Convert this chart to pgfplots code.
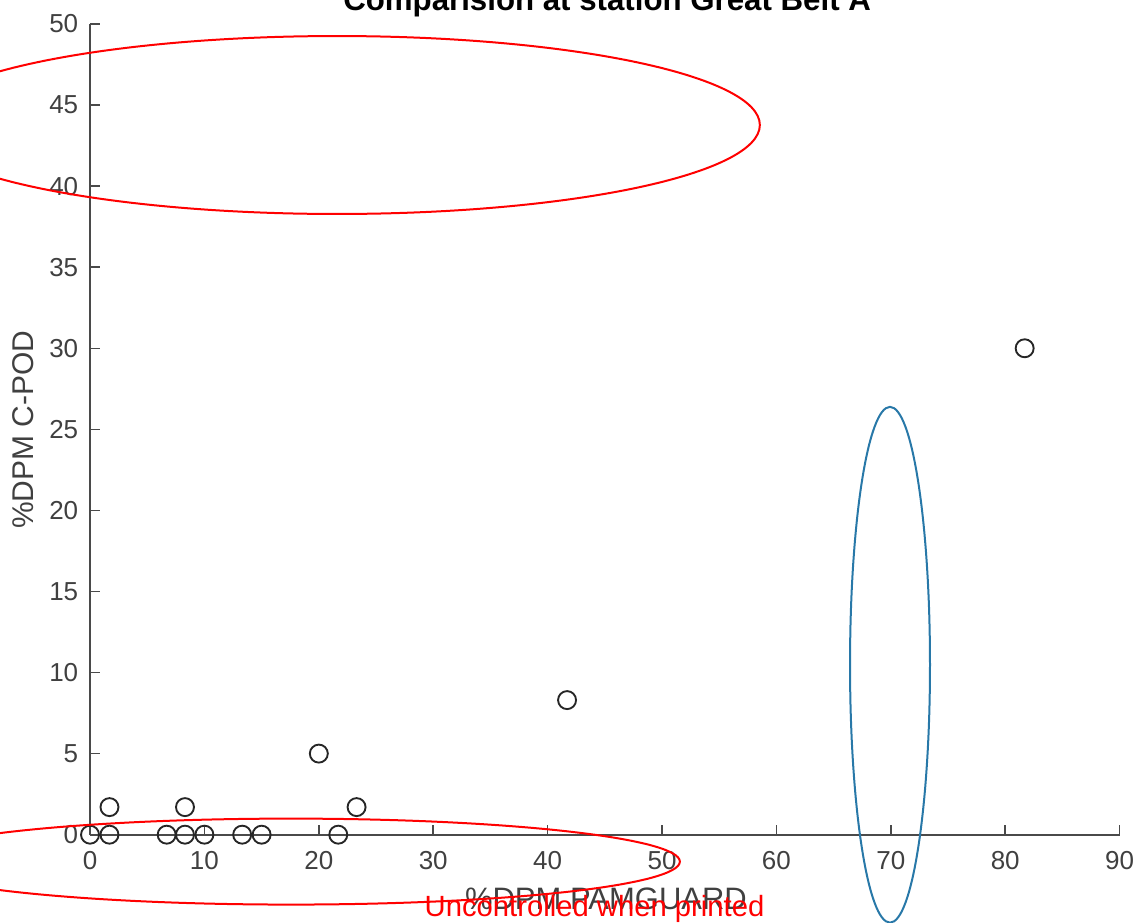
\documentclass[border=0pt]{standalone}
\usepackage{pgfplots}
\pgfplotsset{compat=1.18}
\usepackage{fontspec}
\setmainfont{Liberation Sans}
\definecolor{axgray}{HTML}{4A4A4A}
\definecolor{tkgray}{HTML}{404040}
\definecolor{ellblue}{HTML}{2878A8}
\begin{document}
\begin{tikzpicture}
\begin{axis}[
  scale only axis,
  width=412pt, height=324.4pt,
  xmin=0, xmax=90, ymin=0, ymax=50,
  axis x line*=bottom, axis y line*=left,
  axis line style={-, color=axgray, line width=0.7pt},
  xtick={0,10,...,90}, ytick={0,5,...,50},
  tick align=inside, major tick length=4pt,
  tick style={color=axgray, line width=0.6pt},
  /pgf/number format/assume math mode=true,
  ticklabel style={font=\fontsize{10.4}{12}\selectfont, text=tkgray},
  xticklabel style={yshift=-3.2pt},
  yticklabel style={xshift=-1.2pt},
  clip=false,
]
\addplot[only marks, mark=o, mark size=3.6pt, mark options={line width=0.75pt, draw=black!85}] coordinates {
(0,0) (1.7,0) (1.7,1.7) (6.7,0) (8.3,0) (8.3,1.7) (10,0) (13.3,0) (15,0)
(20,5) (21.7,0) (23.3,1.7) (41.7,8.3) (81.7,30)
};
\node[font=\bfseries\fontsize{12.5}{14}\selectfont, anchor=base] at (axis cs:45.2,50.86) {Comparision at station Great Belt A};
\node[font=\fontsize{12.4}{14}\selectfont, text=tkgray, anchor=base] at (axis cs:45.1,-4.62) {\%DPM PAMGUARD};
\node[font=\fontsize{12}{14}\selectfont, text=tkgray, anchor=base, rotate=90] at (axis cs:-4.98,24.97) {\%DPM C-POD};
\coordinate (BL) at (axis cs:-7.87,-5.43);
\coordinate (TR) at (axis cs:91.87,51.48);
\coordinate (E1) at (axis cs:21.59,43.77);
\coordinate (E2) at (axis cs:17.57,-1.66);
\coordinate (E3) at (axis cs:69.93,10.48);
\coordinate (UT) at (axis cs:44.1,-5.06);
\end{axis}
\draw[red, line width=0.8pt] (E1) ellipse [x radius=169.2pt, y radius=35.6pt];
\draw[red, line width=0.8pt] (E2) ellipse [x radius=155.6pt, y radius=17.2pt];
\draw[ellblue, line width=0.8pt] (E3) ellipse [x radius=16pt, y radius=103.2pt];
\node[text=red, font=\fontsize{11.7}{13}\selectfont, anchor=base, inner sep=0pt] at (UT) {Uncontrolled when printed};
\pgfresetboundingbox
\useasboundingbox (BL) rectangle (TR);
\end{tikzpicture}
\end{document}
